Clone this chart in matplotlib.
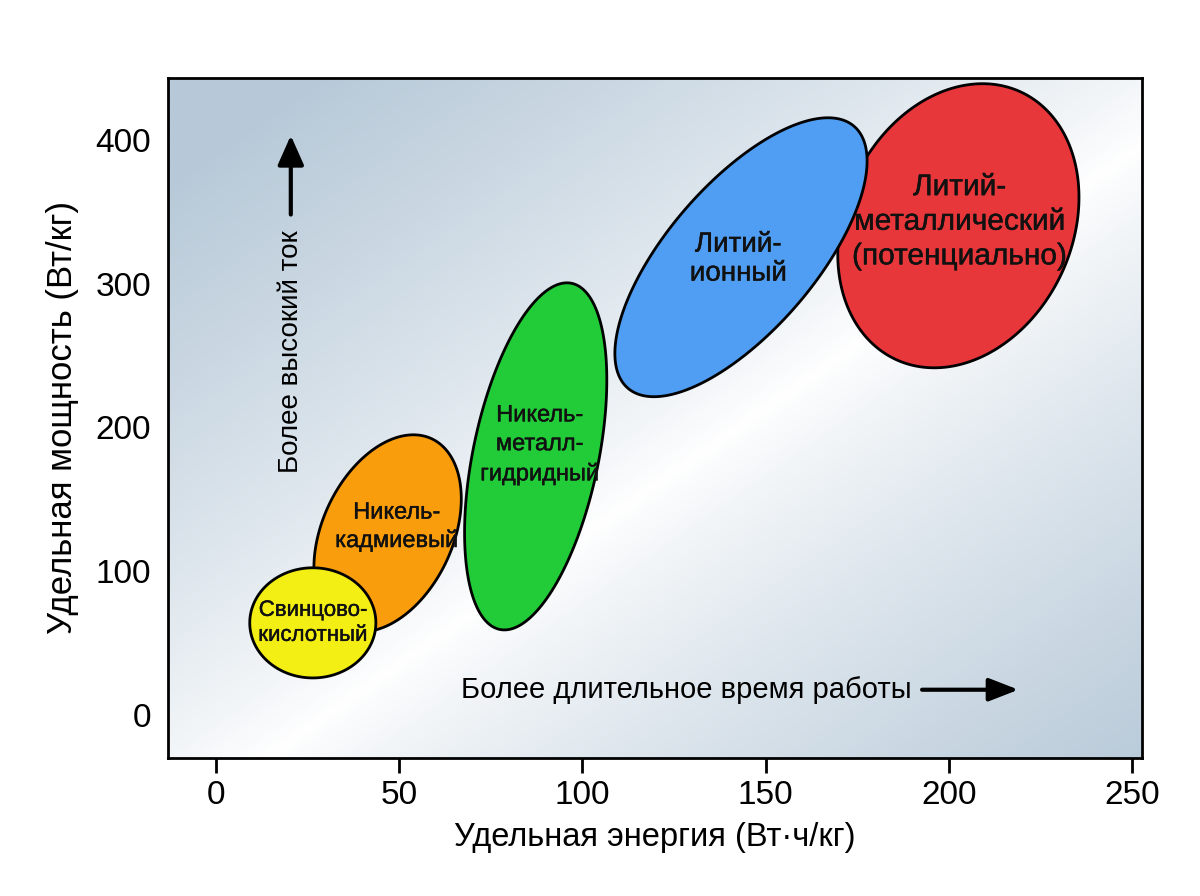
import numpy as np
import matplotlib
matplotlib.use('Agg')
import matplotlib.pyplot as plt
import matplotlib.patheffects as pe
from matplotlib.colors import LinearSegmentedColormap

plt.rcParams['font.family'] = ['Liberation Sans Narrow', 'Liberation Sans', 'DejaVu Sans']

# battery families: energy centre / half-range, power centre / half-range, tilt (cos delta)
names = ['Литий-\nметаллический\n(потенциально)', 'Литий-\nионный',
         'Никель-\nкадмиевый', 'Свинцово-\nкислотный', 'Никель-\nметалл-\nгидридный']
energy_mid = [202.6, 143.3, 46.9, 26.5, 87.3]
energy_half = [32.9, 34.4, 20.1, 17.2, 19.4]
power_mid = [340.2, 318.3, 126.3, 64.0, 179.8]
power_half = [98.8, 97.0, 68.5, 38.3, 120.7]
tilt = [0.2, 0.69, 0.35, 0.0, 0.44]
colors = ['#e8373a', '#4f9ef3', '#f99d0c', '#f3ef14', '#22cc38']
# where the names sit
label_x = [203.0, 142.5, 49.4, 26.5, 88.4]
label_y = [343.0, 317.0, 130.8, 64.0, 187.8]
label_size = [21.5, 20, 17, 16, 17]
label_gap = [1.3, 1.15, 1.3, 1.25, 1.4]

x_ticks = [0, 50, 100, 150, 200, 250]
y_ticks = [0, 100, 200, 300, 400]

fig = plt.figure(figsize=(12, 8.96), dpi=100)
ax = fig.add_axes([0.14, 0.154, 0.8117, 0.759])
ax.set_xlim(-13, 252.7)
ax.set_ylim(-30, 443)

# background: white diagonal band, bluish corners
gx, gy = np.meshgrid(np.linspace(0, 1, 400), np.linspace(1, 0, 400))
d = (gx + (1 - gy)) / 2
t = np.clip(np.abs(d - 0.55) * 2.1, 0, 1) ** 0.8
cmap = LinearSegmentedColormap.from_list('bg', ['#ffffff', '#b7c9d8'])
ax.imshow(t, cmap=cmap, extent=(0, 1, 0, 1), transform=ax.transAxes,
          aspect='auto', zorder=0, vmin=0, vmax=1)

heavy = [pe.withStroke(linewidth=0.3, foreground='#111111')]
delta_t = np.linspace(0, 2 * np.pi, 300)
for i in range(len(names)):
    dl = np.arccos(tilt[i])
    xs = energy_mid[i] + energy_half[i] * np.cos(delta_t)
    ys = power_mid[i] + power_half[i] * np.cos(delta_t - dl)
    ax.fill(xs, ys, facecolor=colors[i], edgecolor='black', linewidth=2, zorder=2 + i)
    ax.text(label_x[i], label_y[i], names[i], ha='center', va='center',
            fontsize=label_size[i], linespacing=label_gap[i], zorder=10, color='#111111',
            path_effects=heavy)

# annotations
ax.annotate('', xy=(20.5, 403), xytext=(20.5, 348),
            arrowprops=dict(arrowstyle='-|>,head_width=0.4,head_length=0.9', lw=3,
                            color='black', mutation_scale=20, shrinkA=0, shrinkB=0))
ax.text(20.5, 253, 'Более высокий ток', rotation=90, ha='center', va='center', fontsize=20)
ax.text(128.3, 17.5, 'Более длительное время работы', ha='center', va='center', fontsize=21)
ax.annotate('', xy=(219, 17.5), xytext=(192.7, 17.5),
            arrowprops=dict(arrowstyle='-|>,head_width=0.35,head_length=0.9', lw=3,
                            color='black', mutation_scale=20, shrinkA=0, shrinkB=0))

ax.set_xticks(x_ticks)
ax.set_yticks(y_ticks)
ax.tick_params(axis='x', length=11, width=2, pad=5, labelsize=24)
ax.tick_params(axis='y', length=0, pad=12, labelsize=24)
for lab in ax.get_xticklabels() + ax.get_yticklabels():
    lab.set_family(['Liberation Sans', 'DejaVu Sans'])
for s in ax.spines.values():
    s.set_linewidth(2)

ax.set_xlabel('Удельная энергия (Вт·ч/кг)', fontsize=23.5, labelpad=8)
ax.set_ylabel('Удельная мощность (Вт/кг)', fontsize=25, labelpad=12)

fig.savefig('out.png', dpi=100)
